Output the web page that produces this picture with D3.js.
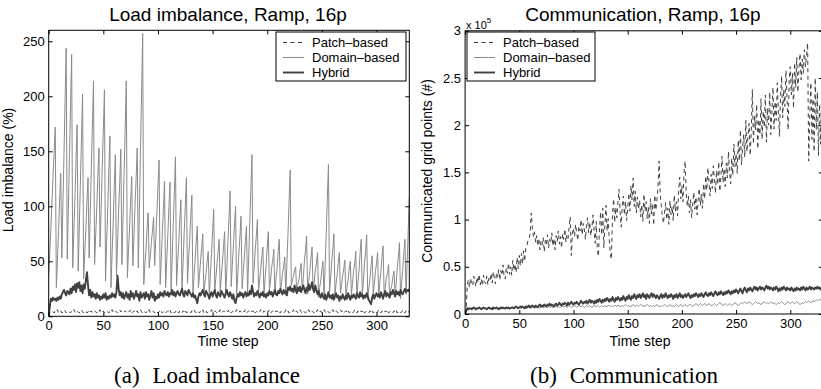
<!DOCTYPE html>
<html><head><meta charset="utf-8">
<script src="https://cdn.jsdelivr.net/npm/d3@7"></script>
<style>body{margin:0;background:#fff}svg{display:block}</style>
</head><body>
<svg id="c" width="821" height="389"></svg>
<script>
// ---------- DATA ----------
const xTicks = [0, 50, 100, 150, 200, 250, 300];
const loadTicks = [0, 50, 100, 150, 200, 250];
const commTicksK = [0, 50, 100, 150, 200, 250, 300];          // thousands of grid points
const commTickLabels = ["0", "0.5", "1", "1.5", "2", "2.5", "3"]; // x 10^5
const seriesNames = ["Patch\u2013based", "Domain\u2013based", "Hybrid"];

// Load imbalance (%), time steps 0..330
const loadPatch = [
0,3,4,5,4,3,5,4,6,3,4,5,3,4,6,5,3,4,5,4,
3,5,4,6,4,3,5,4,3,5,6,4,3,4,5,3,4,6,4,5,
3,4,5,4,3,5,4,6,3,4,5,3,4,5,4,3,5,4,6,4,
3,5,4,3,4,6,4,5,3,4,5,4,3,5,4,6,3,4,5,3,
4,5,3,4,6,4,3,5,4,3,5,4,6,3,4,5,4,3,5,4,
3,4,6,5,3,4,5,3,4,5,4,6,3,4,5,3,4,6,4,3,
5,4,3,5,4,6,3,4,5,4,3,5,4,6,4,3,5,4,3,5,
4,6,3,4,5,3,4,5,4,6,3,4,5,4,3,5,4,6,3,4,
5,4,3,5,4,6,4,3,4,5,3,4,6,4,3,5,4,3,5,4,
6,3,4,5,4,3,5,4,6,3,4,5,3,4,6,4,3,5,4,3,
5,4,6,3,4,5,4,3,5,4,6,4,3,5,4,3,4,6,4,5,
3,4,5,4,6,3,4,5,3,4,6,4,3,5,4,3,5,4,6,3,
4,5,4,3,5,4,6,3,4,5,3,4,6,4,3,5,4,3,5,4,
6,4,3,5,4,3,4,6,4,5,3,4,5,4,6,3,4,5,3,4,
6,4,3,5,4,3,5,4,6,3,4,5,4,3,5,4,6,3,4,5,
3,4,6,4,3,5,4,3,5,4,6,3,4,5,4,3,5,4,6,3,
4,5,3,4,6,4,3,5,4,3,5];

const loadDomain = [
37,58,80,104,128,150,172,
26,51,78,105,130,  53,101,147,197,244,  52,97,146,191,238,  44,77,108,142,174,
41,80,122,161,202,  34,58,79,104,126,  53,92,135,173,214,  47,74,99,128,153,
63,98,136,169,206,  32,66,97,132,164,  26,57,85,118,147,  37,65,96,122,152,
47,88,131,171,214,  35,59,80,105,127,  46,72,101,125,153,  44,96,151,203,257,
29,46,60,79,94,  44,55,68,78,90,  46,71,93,119,142,  29,51,77,98,123,
26,51,73,99,122,  22,52,85,113,145,  28,49,66,88,106,  24,49,76,100,126,
30,51,69,91,110,  21,37,51,68,82,  26,37,51,62,75,  20,31,39,50,59,
18,39,57,78,97,  24,35,48,58,70,  22,37,49,64,77,  19,42,68,89,114,
27,46,63,83,100,  20,37,57,72,91,  25,40,53,69,82,  21,52,85,115,147,
30,44,60,73,88,  22,33,42,54,63,  18,34,47,63,77,  24,32,44,51,61,
20,34,44,59,70,  22,29,39,45,54,  19,49,75,106,133,  28,33,36,42,45,
21,29,33,42,48,  24,35,50,60,73,  20,32,41,53,63,  23,31,42,48,58,
17,26,33,43,50,  15,47,76,108,138,  22,34,50,61,75,  19,30,38,49,58,
21,28,37,43,51,  18,27,33,43,50,  20,29,41,48,59,  16,31,42,58,70,
19,32,48,59,74,  15,26,34,46,55,  21,29,41,48,58,  18,31,40,54,64,
20,26,35,39,47,  17,24,28,36,41,  19,30,44,54,67,  16,31,42,58,70,
20,48,78,108];

const loadHybrid = [
0,9,16,14,17,15,16,14,17,15,18,16,20,22,24,21,19,23,22,20,
25,21,27,24,29,22,30,26,31,23,28,21,29,25,33,40,28,19,24,17,
22,18,20,16,21,17,19,15,18,16,20,17,21,15,18,16,19,17,21,18,
20,17,22,37,25,19,22,17,21,16,19,22,17,20,15,23,18,21,16,19,
23,18,20,14,22,17,19,21,16,22,18,20,15,19,23,17,21,14,18,16,
20,17,22,19,21,18,23,20,19,22,18,21,20,24,19,22,18,21,23,20,
19,22,25,20,18,23,21,19,24,22,20,18,21,17,19,15,12,18,21,19,
22,24,20,18,23,21,19,16,20,22,18,21,24,19,17,22,20,18,23,21,
19,17,21,24,20,18,22,19,16,20,14,12,17,20,18,22,19,21,17,20,
22,18,21,19,23,20,28,22,18,21,19,23,20,17,21,19,22,18,20,17,
21,19,23,20,22,18,21,24,20,19,23,21,25,22,20,24,21,23,19,26,
24,27,23,25,22,28,24,21,26,23,27,22,25,28,24,21,26,23,29,24,
27,31,25,22,28,24,20,23,19,17,21,18,16,20,15,18,22,17,19,16,
20,15,18,21,17,19,14,18,16,20,17,15,19,16,21,18,15,19,17,20,
18,16,21,19,17,22,18,20,16,19,17,21,18,15,13,11,17,20,16,19,
21,18,20,17,22,19,16,20,23,18,21,19,17,22,20,24,21,18,23,20,
22,19,24,21,20,23,25,22,24,23,25];

// Communicated grid points, in thousands, time steps 0..330
const commPatchK = [
0,5,31,36,28,38,33,30,40,34,29,39,33,42,31,37,30,41,34,32,
40,31,38,35,43,33,45,37,32,44,39,47,36,46,41,52,40,37,49,43,
54,42,50,41,57,46,53,44,60,48,62,51,64,53,67,56,70,72,78,80,
85,107,92,82,87,76,83,72,80,68,77,73,81,66,78,74,84,70,79,75,
86,72,80,68,83,77,88,74,82,70,85,79,90,76,84,80,93,103,62,86,
91,82,95,85,78,93,88,100,84,96,89,79,94,102,86,97,83,91,105,88,
75,98,68,61,90,108,84,112,70,95,115,88,101,79,63,58,106,122,97,113,
102,118,132,108,92,115,125,105,119,99,112,128,109,136,121,144,114,130,107,124,
111,120,103,116,98,127,109,119,101,113,96,122,106,117,94,126,110,121,135,162,
128,115,103,96,108,118,100,112,95,120,105,114,99,126,109,119,104,130,145,122,
136,119,150,162,128,114,125,107,121,102,117,129,111,124,105,120,133,115,127,112,
138,122,146,131,155,140,125,148,133,157,142,128,152,137,161,130,145,167,139,154,
135,160,144,172,150,138,165,147,180,156,170,149,184,162,195,158,176,190,166,205,
172,188,202,168,193,238,180,210,195,222,175,206,190,228,185,215,198,232,182,218,
200,235,190,212,240,196,225,205,245,214,188,230,252,208,238,220,258,228,195,248,
262,232,255,218,266,240,272,235,260,276,248,270,255,280,262,274,287,162,210,245,
185,228,172,250,195,235,168,222,180,240,175];

const commDomainK = [
0,4,6,6,5,6,6,5,6,5,6,6,5,6,6,5,6,6,5,6,
5,6,6,5,6,6,5,6,6,6,5,6,6,5,6,6,6,5,6,6,
6,5,6,7,6,6,6,7,6,6,7,6,6,7,6,7,6,6,7,7,
7,6,7,7,6,7,7,8,7,6,7,8,7,7,8,7,7,8,7,7,
8,7,7,8,8,7,8,7,7,8,8,7,8,8,7,8,9,8,7,8,
8,9,8,7,8,9,8,8,9,8,7,8,9,8,8,9,8,7,8,9,
8,8,9,8,7,8,9,8,8,9,8,8,9,9,8,8,9,8,9,9,
8,9,9,8,8,9,8,9,10,9,8,9,8,8,9,10,9,8,9,9,
8,9,10,9,8,9,8,9,10,9,8,9,8,8,9,8,9,10,9,8,
8,9,8,9,10,9,8,8,9,10,9,8,9,8,9,10,9,8,9,10,
9,8,9,10,9,8,9,10,10,9,8,9,10,11,10,9,10,11,10,9,
10,11,10,9,10,11,10,9,9,10,11,10,9,10,11,12,11,10,9,10,
11,10,9,10,11,10,9,10,11,12,11,10,9,10,11,12,11,12,13,12,
11,12,13,12,11,10,11,12,13,12,11,12,11,10,11,12,13,12,11,12,
11,12,13,12,11,12,11,10,11,12,11,12,13,12,11,10,11,12,13,12,
11,12,13,12,11,12,13,12,11,10,11,12,11,12,13,12,13,14,13,12,
13,14,13,14,15,14,15,16,15,16,17];

const commHybridK = [
0,3,6,5,6,6,5,6,7,6,5,6,6,7,6,5,6,7,6,6,
5,6,7,6,6,5,7,6,6,7,6,5,6,7,6,7,6,6,7,6,
7,6,6,7,7,6,7,8,7,6,7,8,7,8,7,6,8,7,8,9,
7,8,9,8,7,9,8,7,9,10,8,9,8,10,9,8,10,9,11,9,
10,9,8,10,11,9,10,12,10,9,11,10,12,11,9,12,10,11,13,11,
10,12,11,13,11,10,12,14,12,11,13,12,14,11,13,15,12,14,13,11,
14,12,15,13,16,14,12,15,13,16,14,17,15,13,16,14,18,15,13,17,
15,18,16,14,17,15,19,16,14,18,16,20,17,15,19,17,21,18,16,20,
18,21,17,19,22,18,20,16,21,19,17,20,22,18,21,19,17,20,18,16,
19,21,17,20,18,22,19,17,20,18,21,19,16,20,18,21,17,19,22,18,
20,17,19,21,18,20,22,19,17,20,18,21,19,22,20,18,21,19,22,20,
18,21,23,20,19,22,20,23,21,19,22,24,21,20,23,21,24,22,20,23,
21,24,22,25,23,21,24,22,25,23,26,24,22,25,27,24,22,26,28,25,
23,27,25,28,26,24,27,29,26,28,25,27,29,26,28,27,25,28,30,27,
29,26,28,27,25,28,26,29,27,24,27,25,28,26,29,27,25,28,26,27,
25,28,26,24,27,25,28,26,27,25,28,26,29,27,25,28,26,27,29,26,
28,27,26,28,27,29,27,28,26,28,27];

// ---------- DRAW ----------
const svg = d3.select("#c");
const SANS = "'Liberation Sans', Arial, Helvetica, sans-serif";
const SERIF = "'Liberation Serif', 'Times New Roman', serif";
const styles = [
  {color:"#404040", width:1,   dash:"4,3.5"},
  {color:"#8a8a8a", width:1,   dash:null},
  {color:"#404040", width:1.9, dash:null}
];

function panel(cfg){
  const g = svg.append("g");
  const x = d3.scaleLinear().domain([0,330]).range([cfg.x0, cfg.x1]);
  const y = d3.scaleLinear().domain(cfg.yDom).range([cfg.yBot, cfg.yTop]);
  const cid = cfg.id + "clip";
  svg.append("clipPath").attr("id", cid).append("rect")
    .attr("x", cfg.x0).attr("y", cfg.yTop).attr("width", cfg.x1 - cfg.x0).attr("height", cfg.yBot - cfg.yTop);
  const lg = g.append("g").attr("clip-path", `url(#${cid})`);
  const line = d3.line().x((d,i)=>x(i)).y(d=>y(d));
  cfg.series.forEach((vals, k) => {
    lg.append("path").datum(vals).attr("fill","none")
      .attr("stroke", styles[k].color).attr("stroke-width", styles[k].width)
      .attr("stroke-dasharray", styles[k].dash).attr("stroke-linejoin","round")
      .attr("d", line);
  });
  const fmtAx = sel => { sel.select(".domain").remove(); sel.selectAll("line").attr("stroke","#000");
    sel.selectAll("text").attr("font-family", SANS).attr("font-size", 13).attr("fill","#000"); };
  g.append("g").attr("transform",`translate(0,${cfg.yBot})`)
    .call(d3.axisBottom(x).tickValues(xTicks).tickSize(-4).tickSizeOuter(0).tickPadding(4.5)).call(fmtAx);
  g.append("g").attr("transform",`translate(0,${cfg.yTop})`)
    .call(d3.axisTop(x).tickValues(xTicks).tickSize(-4).tickSizeOuter(0).tickFormat(()=> "")).call(fmtAx);
  g.append("g").attr("transform",`translate(${cfg.x0},0)`)
    .call(d3.axisLeft(y).tickValues(cfg.yTicks).tickFormat(cfg.yFmt).tickSize(-4).tickSizeOuter(0).tickPadding(4)).call(fmtAx);
  g.append("g").attr("transform",`translate(${cfg.x1},0)`)
    .call(d3.axisRight(y).tickValues(cfg.yTicks).tickSize(-4).tickSizeOuter(0).tickFormat(()=> "")).call(fmtAx);
  g.append("rect").attr("x",cfg.x0).attr("y",cfg.yTop).attr("width",cfg.x1-cfg.x0).attr("height",cfg.yBot-cfg.yTop)
    .attr("fill","none").attr("stroke","#000").attr("stroke-width",1);
  // title
  g.append("text").attr("x",(cfg.x0+cfg.x1)/2 - 1).attr("y",21).attr("text-anchor","middle")
    .attr("font-family",SANS).attr("font-size",19).text(cfg.title);
  // x label
  g.append("text").attr("x",cfg.xlabX).attr("y",346).attr("text-anchor","middle")
    .attr("font-family",SANS).attr("font-size",14).text("Time step");
  // y label
  g.append("text").attr("transform",`translate(${cfg.ylabX},${cfg.ylabY}) rotate(-90)`).attr("text-anchor","middle")
    .attr("font-family",SANS).attr("font-size",14).text(cfg.ylabel);
  // legend
  const L = cfg.legend;
  g.append("rect").attr("x",L.x).attr("y",L.y).attr("width",L.w).attr("height",L.h)
    .attr("fill","#fff").attr("stroke","#000").attr("stroke-width",1);
  seriesNames.forEach((nm,k)=>{
    const yy = L.y + 10.5 + k*15;
    g.append("line").attr("x1",L.x+7).attr("x2",L.x+28).attr("y1",yy).attr("y2",yy)
      .attr("stroke",styles[k].color).attr("stroke-width",styles[k].width).attr("stroke-dasharray",styles[k].dash);
    g.append("text").attr("x",L.x+36).attr("y",yy+4.6).attr("font-family",SANS).attr("font-size",13).text(nm);
  });
  // caption
  g.append("text").attr("x",cfg.capX).attr("y",383).attr("text-anchor","middle")
    .attr("font-family",SERIF).attr("font-size",23)
    .call(t=>{ t.append("tspan").text(cfg.cap[0]); t.append("tspan").attr("dx",7).text(" " + cfg.cap[1]); });
  return {x,y,g};
}

panel({id:"load", x0:48.7, x1:409.3, yTop:30.3, yBot:316.3, yDom:[0,260],
  yTicks:loadTicks, yFmt:d3.format("d"),
  series:[loadPatch, loadDomain, loadHybrid],
  title:"Load imbalance, Ramp, 16p", ylabel:"Load imbalance (%)", ylabX:13, ylabY:170, xlabX:228,
  legend:{x:276, y:32, w:130, h:49}, capX:207, cap:["(a)","Load imbalance"]});

const P2 = panel({id:"comm", x0:465.1, x1:822.8, yTop:30.8, yBot:314, yDom:[0,300],
  yTicks:commTicksK, yFmt:(d,i)=>commTickLabels[i],
  series:[commPatchK, commDomainK, commHybridK],
  title:"Communication, Ramp, 16p", ylabel:"Communicated grid points (#)", ylabX:432, ylabY:171, xlabX:640,
  legend:{x:467, y:32, w:128, h:49}, capX:624, cap:["(b)","Communication"]});

// exponent label
const ex = P2.g.append("text").attr("x",466).attr("y",29).attr("font-family",SANS).attr("font-size",11);
ex.append("tspan").text("x 10");
ex.append("tspan").attr("dy",-6).attr("font-size",8).text("5");
</script>
</body></html>
